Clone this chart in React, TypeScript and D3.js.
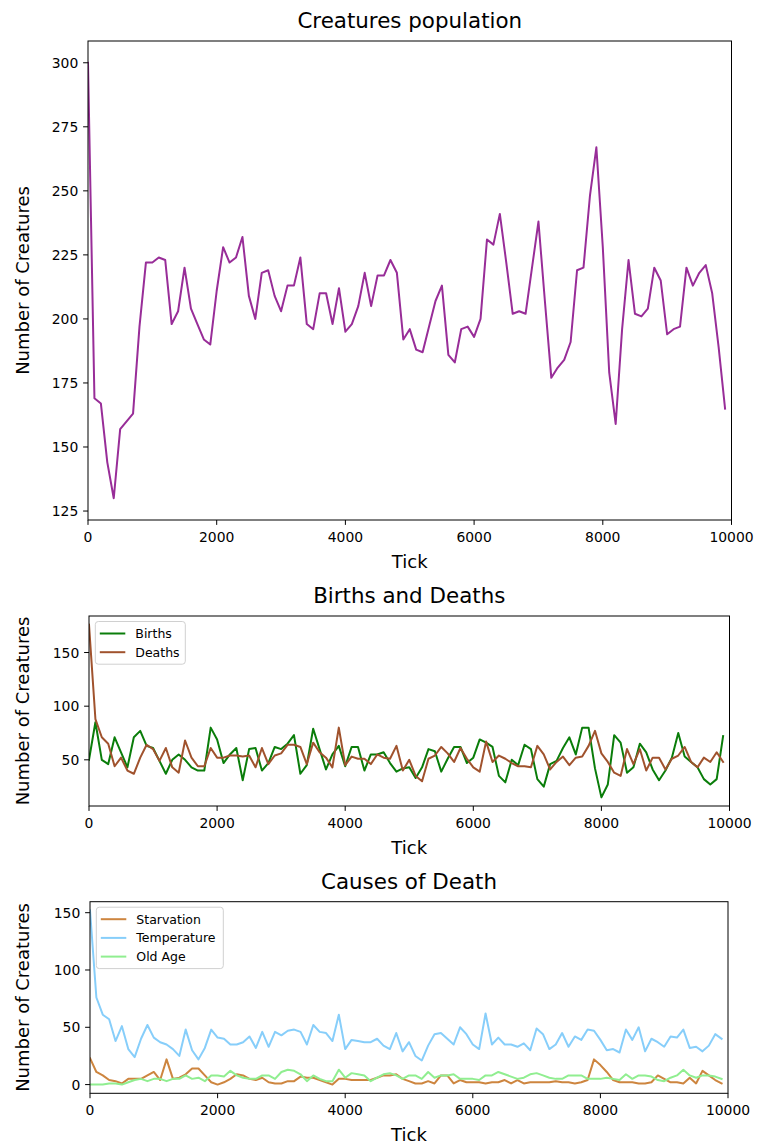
import React from "react";
import * as d3 from "d3";

// Sampling ticks: one record every 100 ticks, 0 .. 9900
const ticks: number[] = d3.range(0, 10000, 100);

const population: number[] = [
  300, 169, 167, 144, 130, 157, 160, 163, 197, 222,
  222, 224, 223, 198, 203, 220, 204, 198, 192, 190,
  211, 228, 222, 224, 232, 209, 200, 218, 219, 209,
  203, 213, 213, 224, 198, 196, 210, 210, 198, 212,
  195, 198, 205, 218, 205, 217, 217, 223, 218, 192,
  196, 188, 187, 197, 207, 213, 186, 183, 196, 197,
  193, 200, 231, 229, 241, 222, 202, 203, 202, 220,
  238, 207, 177, 181, 184, 191, 219, 220, 248, 267,
  228, 179, 159, 196, 223, 202, 201, 204, 220, 215,
  194, 196, 197, 220, 213, 218, 221, 210, 189, 165,
];

const births: number[] = [
  50, 85, 50, 46, 71, 57, 43, 71, 77, 63,
  61, 49, 37, 50, 55, 50, 43, 40, 40, 80,
  69, 47, 55, 61, 31, 60, 61, 40, 47, 62,
  60, 65, 73, 37, 45, 79, 60, 41, 55, 63,
  44, 62, 62, 40, 55, 55, 57, 47, 39, 42,
  43, 33, 43, 60, 58, 39, 51, 62, 62, 47,
  52, 69, 66, 62, 35, 29, 50, 45, 64, 60,
  32, 25, 46, 49, 61, 71, 55, 80, 80, 42,
  15, 27, 73, 66, 38, 43, 65, 57, 41, 31,
  40, 52, 75, 53, 48, 43, 32, 27, 32, 72,
];

const deaths: number[] = [
  176, 88, 71, 65, 44, 52, 40, 37, 52, 64,
  60, 49, 61, 43, 38, 68, 52, 44, 44, 61,
  52, 52, 54, 54, 53, 54, 43, 61, 46, 54,
  56, 64, 64, 62, 46, 66, 57, 52, 43, 80,
  45, 53, 51, 51, 46, 55, 52, 51, 63, 40,
  50, 35, 30, 51, 54, 62, 56, 48, 61, 51,
  43, 39, 67, 48, 54, 51, 47, 44, 44, 43,
  63, 55, 41, 48, 53, 45, 52, 53, 63, 77,
  56, 48, 38, 35, 60, 46, 60, 40, 52, 52,
  41, 51, 54, 62, 48, 43, 52, 48, 57, 48,
];

const starvation: number[] = [
  23, 11, 8, 4, 3, 1, 5, 5, 5, 8,
  11, 4, 22, 5, 6, 9, 14, 14, 8, 2,
  0, 2, 5, 9, 8, 5, 4, 6, 2, 1,
  1, 3, 3, 7, 6, 6, 4, 2, 0, 5,
  5, 4, 4, 4, 4, 6, 8, 8, 9, 5,
  3, 1, 1, 3, 1, 8, 8, 1, 4, 2,
  2, 2, 1, 2, 2, 4, 1, 4, 1, 2,
  2, 2, 2, 3, 2, 2, 1, 2, 4, 22,
  17, 11, 4, 2, 2, 2, 1, 1, 2, 8,
  5, 2, 2, 1, 6, 1, 12, 8, 4, 1,
];

const temperature: number[] = [
  152, 76, 61, 57, 38, 51, 31, 24, 40, 52,
  41, 37, 35, 31, 25, 48, 30, 22, 32, 48,
  41, 40, 35, 35, 37, 42, 32, 46, 33, 46,
  43, 47, 48, 46, 35, 52, 46, 45, 38, 61,
  31, 39, 38, 37, 37, 40, 34, 31, 45, 29,
  37, 25, 21, 34, 44, 45, 40, 35, 50, 44,
  35, 31, 62, 35, 41, 35, 35, 33, 36, 30,
  49, 44, 31, 35, 45, 33, 42, 39, 48, 47,
  39, 30, 31, 28, 48, 39, 50, 29, 40, 37,
  33, 42, 41, 48, 32, 33, 29, 34, 44, 40,
];

const oldAge: number[] = [
  0, 0, 0, 1, 1, 0, 2, 4, 5, 3,
  5, 5, 3, 5, 5, 8, 5, 6, 3, 8,
  8, 7, 12, 8, 6, 5, 5, 8, 8, 5,
  11, 13, 12, 9, 3, 8, 5, 3, 3, 13,
  6, 10, 9, 8, 3, 6, 9, 10, 8, 5,
  8, 8, 5, 11, 6, 8, 8, 9, 5, 5,
  5, 4, 8, 8, 11, 9, 7, 5, 6, 9,
  10, 8, 6, 5, 5, 8, 8, 8, 5, 5,
  5, 6, 5, 4, 9, 5, 8, 8, 7, 4,
  3, 6, 8, 13, 8, 6, 8, 8, 7, 5,
];

const xTicks: number[] = [0, 2000, 4000, 6000, 8000, 10000];
const populationTicks: number[] = [125, 150, 175, 200, 225, 250, 275, 300];
const birthDeathTicks: number[] = [50, 100, 150];
const causeTicks: number[] = [0, 50, 100, 150];

const FONT = "DejaVu Sans, Liberation Sans, sans-serif";
const TICK_FS = 13.9;
const LABEL_FS = 18;
const TITLE_FS = 21.4;
const LEGEND_FS = 12.5;
const TICK_LEN = 4.9;

type Series = { name: string; values: number[]; color: string };
type Frame = { left: number; right: number; top: number; bottom: number };

interface PanelProps {
  frame: Frame;
  title: string;
  series: Series[];
  yTicks: number[];
  legend?: { width: number };
}

function Panel({ frame, title, series, yTicks, legend }: PanelProps) {
  const { left, right, top, bottom } = frame;
  const x = d3.scaleLinear().domain([0, 10000]).range([left, right]);

  // matplotlib-style 5% autoscale margins on y
  const all = series.flatMap((s) => s.values);
  const lo = d3.min(all)!;
  const hi = d3.max(all)!;
  const pad = (hi - lo) * 0.05;
  const y = d3.scaleLinear().domain([lo - pad, hi + pad]).range([bottom, top]);

  const line = (vals: number[]) =>
    d3
      .line<number>()
      .x((_, i) => x(ticks[i]))
      .y((v) => y(v))(vals) || "";

  const midX = (left + right) / 2;
  const midY = (top + bottom) / 2;
  const clipId = `clip-${title.replace(/\s+/g, "-")}`;

  return (
    <g>
      <defs>
        <clipPath id={clipId}>
          <rect x={left} y={top} width={right - left} height={bottom - top} />
        </clipPath>
      </defs>
      <rect x={left} y={top} width={right - left} height={bottom - top} fill="#fff" />
      <g clipPath={`url(#${clipId})`}>
        {series.map((s) => (
          <path
            key={s.name}
            d={line(s.values)}
            fill="none"
            stroke={s.color}
            strokeWidth={2}
            strokeLinejoin="round"
            strokeLinecap="square"
          />
        ))}
      </g>
      <rect
        x={left}
        y={top}
        width={right - left}
        height={bottom - top}
        fill="none"
        stroke="#000"
        strokeWidth={1}
      />
      {xTicks.map((t) => (
        <g key={`x${t}`}>
          <line x1={x(t)} x2={x(t)} y1={bottom} y2={bottom + TICK_LEN} stroke="#000" strokeWidth={1} />
          <text
            x={x(t)}
            y={bottom + 22}
            textAnchor="middle"
            fontSize={TICK_FS}
            fontFamily={FONT}
            fill="#000"
          >
            {t}
          </text>
        </g>
      ))}
      {yTicks.map((t) => (
        <g key={`y${t}`}>
          <line x1={left - TICK_LEN} x2={left} y1={y(t)} y2={y(t)} stroke="#000" strokeWidth={1} />
          <text
            x={left - 9.7}
            y={y(t)}
            dy="0.36em"
            textAnchor="end"
            fontSize={TICK_FS}
            fontFamily={FONT}
            fill="#000"
          >
            {t}
          </text>
        </g>
      ))}
      <text x={midX} y={bottom + 48} textAnchor="middle" fontSize={LABEL_FS} fontFamily={FONT} fill="#000">
        Tick
      </text>
      <text
        transform={`translate(29,${midY}) rotate(-90)`}
        textAnchor="middle"
        fontSize={LABEL_FS}
        fontFamily={FONT}
        fill="#000"
      >
        Number of Creatures
      </text>
      <text x={midX} y={top - 13} textAnchor="middle" fontSize={TITLE_FS} fontFamily={FONT} fill="#000">
        {title}
      </text>
      {legend && (
        <g transform={`translate(${left + 6.3},${top + 5.5})`}>
          <rect
            x={0}
            y={0}
            width={legend.width}
            height={24 + 18.7 * (series.length - 1)}
            rx={3}
            fill="#fff"
            fillOpacity={0.8}
            stroke="#d0d0d0"
            strokeWidth={1}
          />
          {series.map((s, i) => (
            <g key={s.name} transform={`translate(0,${12 + 18.7 * i})`}>
              <line x1={4.5} x2={30} y1={0} y2={0} stroke={s.color} strokeWidth={2} />
              <text x={40} y={0} dy="0.36em" fontSize={LEGEND_FS} fontFamily={FONT} fill="#000">
                {s.name}
              </text>
            </g>
          ))}
        </g>
      )}
    </g>
  );
}

export default function App() {
  return (
    <svg
      width={761}
      height={1146}
      viewBox="0 0 761 1146"
      style={{ position: "absolute", left: 0, top: 0, background: "#fff" }}
    >
      <rect width={761} height={1146} fill="#fff" />
      <Panel
        frame={{ left: 88, right: 731.5, top: 41, bottom: 520 }}
        title="Creatures population"
        series={[{ name: "Population", values: population, color: "#982d98" }]}
        yTicks={populationTicks}
      />
      <Panel
        frame={{ left: 89, right: 729.5, top: 616, bottom: 806 }}
        title="Births and Deaths"
        series={[
          { name: "Births", values: births, color: "#0a7d0a" },
          { name: "Deaths", values: deaths, color: "#a0522d" },
        ]}
        yTicks={birthDeathTicks}
        legend={{ width: 90 }}
      />
      <Panel
        frame={{ left: 90, right: 728, top: 901.7, bottom: 1093.3 }}
        title="Causes of Death"
        series={[
          { name: "Starvation", values: starvation, color: "#cd853f" },
          { name: "Temperature", values: temperature, color: "#87cefa" },
          { name: "Old Age", values: oldAge, color: "#90ee90" },
        ]}
        yTicks={causeTicks}
        legend={{ width: 127 }}
      />
    </svg>
  );
}
